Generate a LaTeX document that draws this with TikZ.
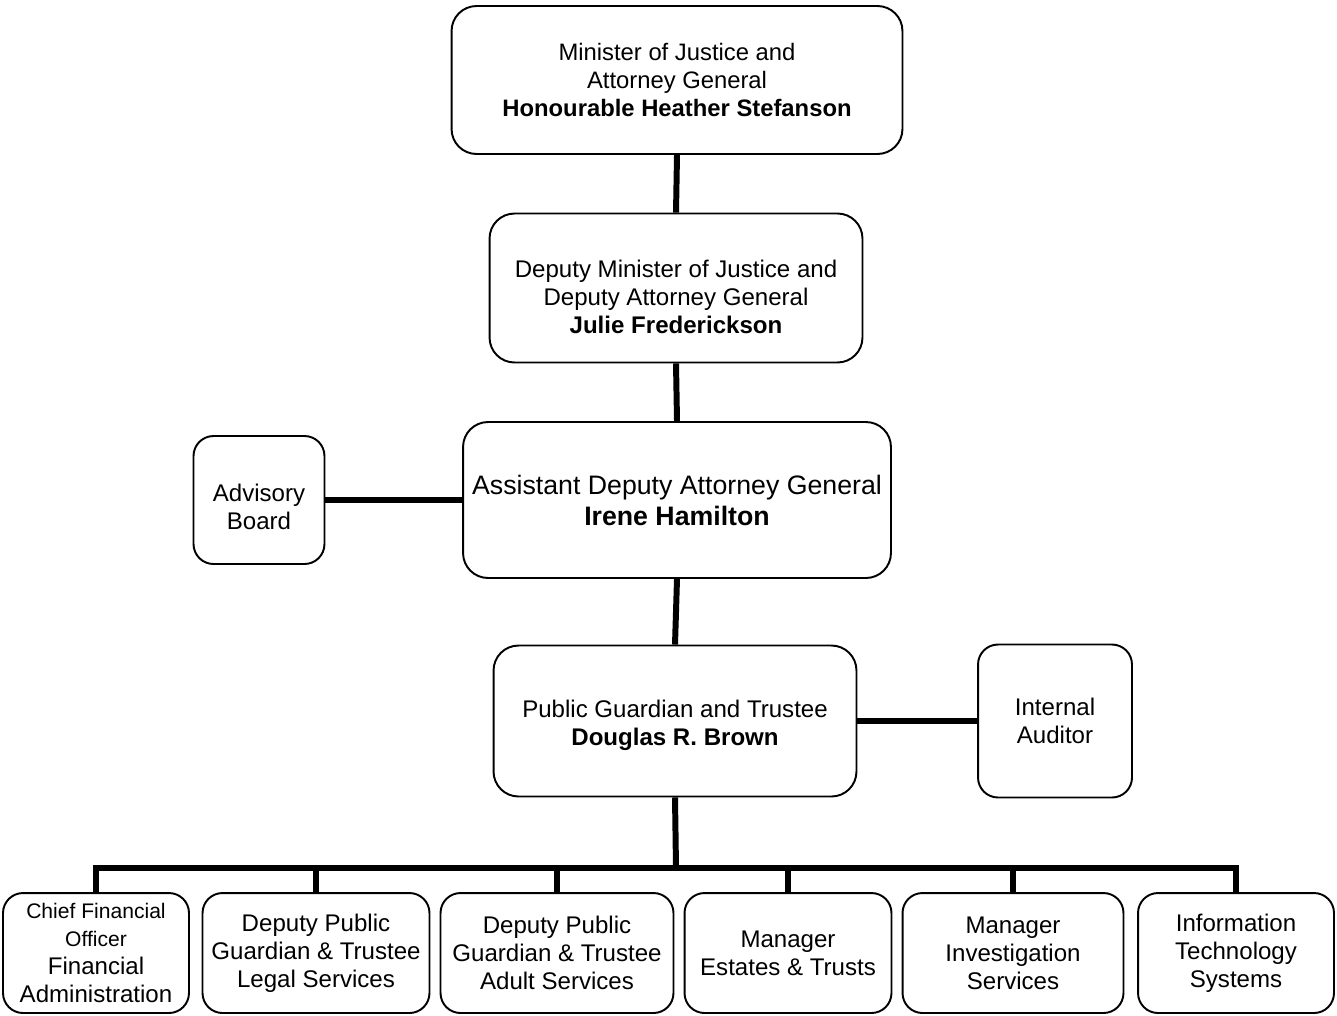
\documentclass[tikz,border=0pt]{standalone}
\usepackage{fontspec}
\setmainfont{Liberation Sans}
\usetikzlibrary{positioning}
\tikzset{
boxtext/.style={align=center, inner sep=0pt, font=\fontsize{13.7}{15.9}\selectfont},
orgbox/.style={rectangle, rounded corners=0.5cm, draw=black, line width=1.1pt, boxtext},
smallbox/.style={orgbox, rounded corners=0.4cm},
link/.style={line width=3.4pt}
}
\newcommand{\smalltxt}{\fontsize{12}{14}\selectfont}

\begin{document}
\begin{tikzpicture}[x=0.02cm, y=-0.02cm]
\useasboundingbox (0,0) rectangle (1337,1015);
%Nodes
\node [orgbox, minimum width=9.02cm, minimum height=2.96cm, font=\fontsize{13.55}{15.9}\selectfont] (minister) at (677,80) {Minister of Justice and\\Attorney General\\\textbf{Honourable Heather Stefanson}};
\node [orgbox, minimum width=7.46cm, minimum height=2.98cm,
  label={[boxtext, yshift=-0.18cm]center:{Deputy Minister of Justice and\\Deputy Attorney General\\\textbf{Julie Frederickson}}}] (deputy) at (676,288) {};
\node [orgbox, minimum width=8.56cm, minimum height=3.12cm, font=\fontsize{15.2}{17.6}\selectfont] (adag) at (677,500) {Assistant Deputy Attorney General\\\textbf{Irene Hamilton}};
\node [smallbox, minimum width=2.62cm, minimum height=2.56cm,
  label={[boxtext, yshift=-0.14cm]center:{Advisory\\Board}}] (advisory) at (259,500) {};
\node [orgbox, minimum width=7.26cm, minimum height=3.02cm,
  label={[boxtext, yshift=-0.08cm]center:{Public Guardian and Trustee\\\textbf{Douglas R. Brown}}}] (pgt) at (675,721) {};
\node [smallbox, minimum width=3.08cm, minimum height=3.06cm] (auditor) at (1055,721) {Internal\\Auditor};
\node [smallbox, minimum width=3.72cm, minimum height=2.4cm] (cfo) at (96,953) {{\smalltxt Chief Financial}\\{\smalltxt Officer}\\Financial\\Administration};
\node [smallbox, minimum width=4.54cm, minimum height=2.4cm] (legal) at (316,953) {Deputy Public\\Guardian \& Trustee\\Legal Services};
\node [smallbox, minimum width=4.66cm, minimum height=2.4cm] (adult) at (557,953) {Deputy Public\\Guardian \& Trustee\\Adult Services};
\node [smallbox, minimum width=4.14cm, minimum height=2.4cm] (estates) at (788,953) {Manager\\Estates \& Trusts};
\node [smallbox, minimum width=4.42cm, minimum height=2.4cm] (invest) at (1013,953) {Manager\\Investigation\\Services};
\node [smallbox, minimum width=3.92cm, minimum height=2.4cm] (its) at (1236,953) {Information\\Technology\\Systems};
\coordinate (bus) at (676,868);

%Lines
\draw[link] (minister.south) -- (deputy.north);
\draw[link] (deputy.south) -- (adag.north);
\draw[link] (advisory.east) -- (adag.west);
\draw[link] (adag.south) -- (pgt.north);
\draw[link] (pgt.east) -- (auditor.west);
\draw[link] (pgt.south) -- (bus);
\draw[link] (cfo.north) -- (cfo.north |- bus) -- (its.north |- bus) -- (its.north);
\foreach \b in {legal,adult,estates,invest}
  \draw[link] (\b.north |- bus) -- (\b.north);

\end{tikzpicture}
\end{document}
